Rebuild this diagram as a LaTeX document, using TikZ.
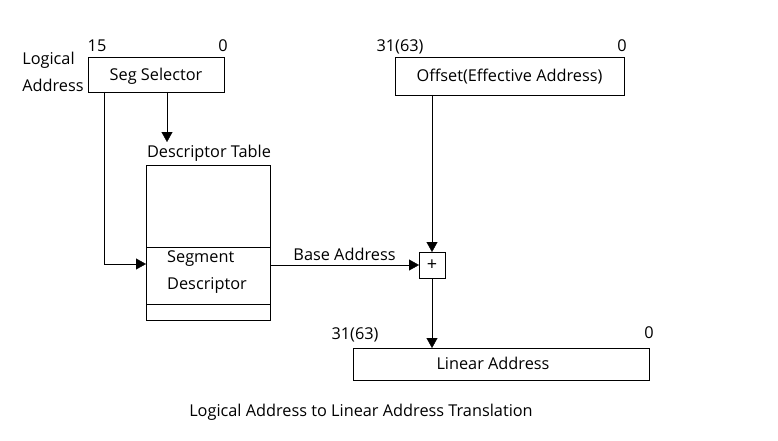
\documentclass[tikz,border=0pt]{standalone}
\usepackage{fontspec}
\setmainfont{Open Sans}
\usetikzlibrary{arrows.meta, positioning}

\tikzset{
    regbox/.style={draw, thin, inner sep=0pt, outer sep=0pt, text height=11.6pt, text depth=0pt},
    flow/.style={thin, -{Triangle[length=10pt, width=11pt]}},
    bitlabel/.style={inner sep=0pt, text height=11.6pt, text depth=0pt},
}

\begin{document}
\begin{tikzpicture}[x=1pt, y=-1pt, font=\fontsize{16.3}{18}\selectfont]
    \useasboundingbox[fill=white] (0,0) rectangle (778,441);

    % Logical address (selector + offset)
    \node[align=left, inner sep=0pt] (logical) at (53,72) {Logical\\[9pt]Address};
    \node[regbox, minimum width=136pt, minimum height=35pt] (selector) at (156,74.5) {Seg Selector};
    \node[bitlabel] (selhi) at (97,46) {15};
    \node[bitlabel] (sello) at (223,46) {0};

    \node[regbox, minimum width=229pt, minimum height=38pt] (offset) at (509.5,76) {Offset(Effective Address)};
    \node[bitlabel] (offhi) at (400,46) {31(63)};
    \node[bitlabel] (offlo) at (622,46) {0};

    % Descriptor table
    \node[bitlabel] (dtlabel) at (209,152) {Descriptor Table};
    \node[regbox, minimum width=124pt, minimum height=82pt] (dtop) at (208,206) {};
    \node[regbox, minimum width=124pt, minimum height=57pt, below=0pt of dtop] (dseg) {};
    \node[regbox, minimum width=124pt, minimum height=16pt, below=0pt of dseg] (dbot) {};
    \node[align=left, inner sep=0pt, anchor=west] (dsegtext) at (167,272) {Segment\\[9pt]Descriptor};

    % Adder
    \node[regbox, minimum size=26pt, font=\fontsize{18}{18}\selectfont] (adder) at (432,265) {+};

    % Linear address
    \node[regbox, minimum width=296pt, minimum height=32pt] (linear) at (501,364) {};
    \node[bitlabel] (lintext) at (493,364) {Linear Address};
    \node[bitlabel] (linhi) at (355,334) {31(63)};
    \node[bitlabel] (linlo) at (649,333) {0};

    % Connectors
    \coordinate (selleft) at (104,92);
    \coordinate (selmid) at (167,92);
    \coordinate (dthit) at (146,264);
    \draw[flow] (selmid) -- (167,142);
    \draw[flow] (selleft) |- (dthit);
    \draw[flow] (dseg.east |- adder.west) -- node[above, inner sep=4pt] {Base Address} (adder.west);
    \draw[flow] (offset.south -| adder.north) -- (adder.north);
    \draw[flow] (adder.south) -- (adder.south |- linear.north);

    % Caption
    \node[bitlabel] (caption) at (361,411) {Logical Address to Linear Address Translation};
\end{tikzpicture}
\end{document}
